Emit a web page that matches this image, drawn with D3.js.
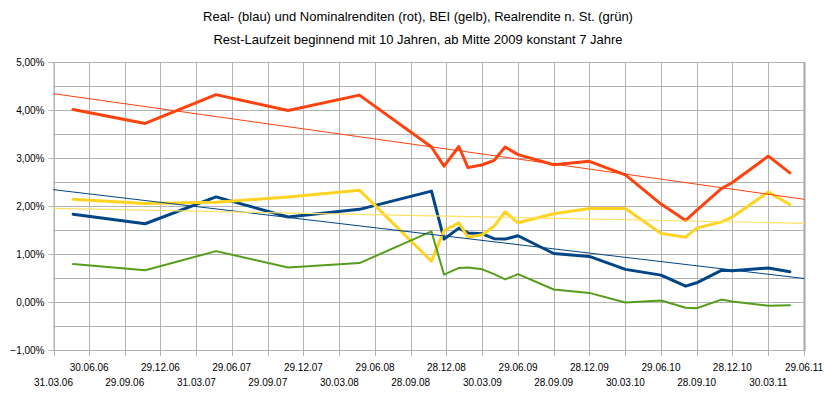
<!DOCTYPE html>
<html>
<head>
<meta charset="utf-8">
<script src="https://cdn.jsdelivr.net/npm/d3@7"></script>
<style>
  body { margin: 0; background: #fff; }
  svg { display: block; }
</style>
</head>
<body>
<svg id="chart" width="828" height="395"></svg>
<script>
// observation dates (dd.mm.yy)
var dates = ['20.05.06', '20.11.06', '20.05.07', '20.11.07', '20.05.08', '20.11.08',
    '22.12.08', '29.01.09', '21.02.09', '30.03.09', '29.04.09', '27.05.09', '29.06.09',
    '28.09.09', '28.12.09', '30.03.10', '29.06.10', '31.08.10', '28.09.10', '30.11.10',
    '28.12.10', '30.03.11', '24.05.11'];

// yields in percent
var realYield = [1.83, 1.63, 2.19, 1.77, 1.93, 2.31, 1.31, 1.54, 1.44, 1.42, 1.32, 1.31, 1.38,
    1.01, 0.95, 0.68, 0.56, 0.33, 0.40, 0.66, 0.65, 0.71, 0.63];
var nominalYield = [4.01, 3.72, 4.32, 3.99, 4.31, 3.23, 2.83, 3.24, 2.80, 2.86, 2.95, 3.23, 3.07,
    2.86, 2.93, 2.65, 2.04, 1.70, 1.91, 2.36, 2.49, 3.04, 2.69];
var bei = [2.14, 2.05, 2.08, 2.19, 2.33, 0.85, 1.49, 1.65, 1.35, 1.40, 1.58, 1.88, 1.65,
    1.84, 1.95, 1.95, 1.43, 1.35, 1.54, 1.67, 1.77, 2.29, 2.03];
var realAfterTax = [0.79, 0.66, 1.06, 0.72, 0.81, 1.47, 0.57, 0.71, 0.72, 0.68, 0.58, 0.47, 0.58,
    0.26, 0.19, -0.01, 0.03, -0.12, -0.13, 0.05, 0.01, -0.08, -0.07];

// linear trend lines, value at first and last axis date
var trendDates = ['31.03.06', '29.06.11'];
var trendReal = [2.34, 0.49];
var trendNominal = [4.34, 2.14];
var trendBei = [1.95, 1.64];

// x axis tick labels
var xTickLabels = ['31.03.06', '30.06.06', '29.09.06', '29.12.06', '31.03.07', '29.06.07',
    '29.09.07', '29.12.07', '30.03.08', '29.06.08', '28.09.08', '28.12.08', '30.03.09',
    '29.06.09', '28.09.09', '28.12.09', '30.03.10', '29.06.10', '28.09.10', '28.12.10',
    '30.03.11', '29.06.11'];
var yTicks = [-1, 0, 1, 2, 3, 4, 5];
var yGrid = [-1, -0.5, 0, 0.5, 1, 1.5, 2, 2.5, 3, 3.5, 4, 4.5, 5];

var titleLines = ['Real- (blau) und Nominalrenditen (rot), BEI (gelb), Realrendite n. St. (grün)',
    'Rest-Laufzeit beginnend mit 10 Jahren, ab Mitte 2009 konstant 7 Jahre'];

(function () {
    var parse = d3.timeParse('%d.%m.%y');
    var svg = d3.select('#chart');

    var left = 53.5, right = 804, top = 62, bottom = 350;
    var gridColor = '#b3b3b3';

    var xScale = d3.scaleTime()
        .domain([parse(xTickLabels[0]), parse(xTickLabels[xTickLabels.length - 1])])
        .range([left, right]);
    var yScale = d3.scaleLinear().domain([-1, 5]).range([bottom, top]);

    // title
    svg.selectAll('text.title').data(titleLines).enter().append('text')
        .attr('class', 'title')
        .attr('x', 418)
        .attr('y', function (d, i) { return 21 + i * 23; })
        .attr('text-anchor', 'middle')
        .style('font-family', '"Liberation Sans Narrow", "Arial Narrow", "Liberation Sans", sans-serif')
        .style('font-size', '13px')
        .text(function (d) { return d; });

    // grid
    var grid = svg.append('g').attr('stroke', gridColor).attr('stroke-width', 1);
    grid.selectAll('line.h').data(yGrid).enter().append('line')
        .attr('x1', left).attr('x2', right)
        .attr('y1', function (d) { return Math.round(yScale(d)) + 0.5; })
        .attr('y2', function (d) { return Math.round(yScale(d)) + 0.5; });
    grid.selectAll('line.v').data(xTickLabels).enter().append('line')
        .attr('x1', function (d) { return Math.round(xScale(parse(d))) + 0.5; })
        .attr('x2', function (d) { return Math.round(xScale(parse(d))) + 0.5; })
        .attr('y1', top).attr('y2', bottom + 6);

    // y axis
    var yAxis = d3.axisLeft(yScale)
        .tickValues(yTicks)
        .tickSize(5)
        .tickPadding(4)
        .tickFormat(function (d) { return d3.format('.2f')(d).replace('.', ',') + '%'; });
    var gy = svg.append('g').attr('transform', 'translate(' + left + ',0)').call(yAxis);
    gy.select('.domain').attr('stroke', gridColor);
    gy.selectAll('.tick line').attr('stroke', gridColor);
    gy.selectAll('.tick text')
        .style('font-family', '"Liberation Sans", Arial, sans-serif')
        .style('font-size', '10px')
        .attr('fill', '#000');

    // right border of the plot area
    svg.append('line')
        .attr('x1', right + 0.5).attr('x2', right + 0.5)
        .attr('y1', top).attr('y2', bottom + 1)
        .attr('stroke', '#a6a6a6').attr('stroke-width', 2);

    // x labels, alternating rows
    svg.selectAll('text.xl').data(xTickLabels).enter().append('text')
        .attr('class', 'xl')
        .attr('x', function (d) { return xScale(parse(d)); })
        .attr('y', function (d, i) { return i % 2 === 1 ? 370.5 : 385.5; })
        .attr('text-anchor', 'middle')
        .style('font-family', '"Liberation Sans", Arial, sans-serif')
        .style('font-size', '10px')
        .text(function (d) { return d; });

    // series
    function drawLine(values, xs, color, width) {
        var line = d3.line()
            .x(function (d, i) { return xScale(parse(xs[i])); })
            .y(function (d) { return yScale(d); });
        svg.append('path')
            .datum(values)
            .attr('d', line)
            .attr('fill', 'none')
            .attr('stroke', color)
            .attr('stroke-width', width)
            .attr('stroke-linejoin', 'round')
            .attr('stroke-linecap', 'round');
    }

    drawLine(realYield, dates, '#004586', 3);
    drawLine(nominalYield, dates, '#ff420e', 3);
    drawLine(bei, dates, '#ffd320', 3);
    drawLine(realAfterTax, dates, '#579d1c', 2);

    drawLine(trendReal, trendDates, '#004586', 1);
    drawLine(trendNominal, trendDates, '#ff420e', 1);
    drawLine(trendBei, trendDates, '#ffe066', 1.2);
}());
</script>
</body>
</html>
